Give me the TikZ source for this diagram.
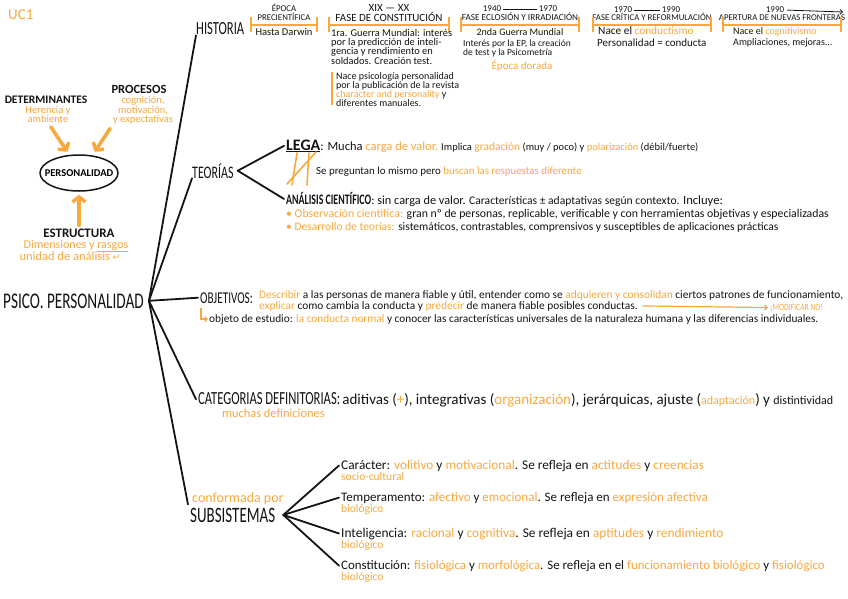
\documentclass[tikz,border=0pt]{standalone}
\usepackage{fontspec}
\setmainfont{Carlito}
\newfontfamily\capsfont[FakeStretch=0.8]{Carlito}
\newfontfamily\tallfont[FakeStretch=0.68]{Carlito}
\newfontfamily\symfont{DejaVu Sans}
\usepackage{tikz}
\usetikzlibrary{calc, positioning, arrows.meta, shapes.geometric}
\definecolor{ucorange}{HTML}{F8A83F}
\definecolor{inkblack}{HTML}{141414}
\newcommand{\hl}[1]{\textcolor{ucorange}{#1}}
\newcommand{\fs}[1]{\fontsize{#1}{#1}\selectfont}

\begin{document}
\begin{tikzpicture}[
  x=1pt, y=-1pt,
  txt/.style={inner sep=0pt, anchor=base west, text=inkblack},
  ctxt/.style={txt, anchor=base},
  title/.style={txt, font=\tallfont\fs{18.5}},
  tlhead/.style={ctxt, font=\fs{8.8}},
  tlyear/.style={ctxt, font=\fs{9}},
  tlbody/.style={txt, anchor=north west, align=left, font=\fontsize{10.4}{9.2}\selectfont},
  brk/.style={draw=ucorange, line width=1.8pt, {Bar[width=15pt]}-{Bar[width=15pt]}},
  branch/.style={draw=inkblack, line width=1.8pt, line cap=round},
  bigarrow/.style={draw=ucorange, line width=3.5pt, line cap=round, -{Straight Barb[length=5pt,width=13pt]}},
  thinarr/.style={draw=ucorange, line width=1.2pt, -{Straight Barb[length=2.5pt,width=5pt]}}
]
\useasboundingbox[fill=white] (0,0) rectangle (848,599);

% --- left block
\node[txt, font=\fs{15}, text=ucorange] (uc) at (8,20) {UC1};

\node[draw=inkblack, ellipse, line width=1.5pt, minimum width=78pt, minimum height=36pt,
  inner sep=0pt, font=\bfseries\fs{10.5}] (perso) at (79,173) {\makebox[40pt]{PERSONALIDAD}};

\node[ctxt, font=\bfseries\fs{11.5}] (determ) at (46,104) {DETERMINANTES};
\node[ctxt, anchor=north, align=center, font=\fontsize{10.5}{9}\selectfont, text=ucorange] (herencia) at (48,106) {Herencia y\\ambiente};
\node[ctxt, font=\bfseries\fs{12.5}] (procesos) at (139,94) {PROCESOS};
\node[ctxt, anchor=north, align=center, font=\fontsize{10.5}{9}\selectfont, text=ucorange] (cognicion) at (143,96) {cognición,\\motivación,\\y expectativas};
\node[ctxt, font=\bfseries\fs{13}] (estructura) at (79,237) {ESTRUCTURA};
\node[ctxt, font=\fs{12}, text=ucorange] (dimens) at (76,248) {Dimensiones y \underline{rasgos}};
\node[ctxt, font=\fs{12.5}, text=ucorange] (unidad) at (70,260) {unidad de análisis {\symfont\fs{9}↵}};

\draw[bigarrow, shorten <=5pt, shorten >=3pt] (herencia.south) -- ([xshift=-10pt]perso.north);
\draw[bigarrow, shorten <=5pt, shorten >=3pt] (cognicion.south west) -- ([xshift=14pt]perso.north);
\draw[bigarrow, shorten <=3pt, shorten >=3pt] (estructura.north) -- (perso.south);

% --- centre
\node[txt, font=\tallfont\fs{22.4}] (psico) at (3,308) {PSICO. PERSONALIDAD};
\coordinate[right=5pt of psico.east] (hub);

\node[title] (historia) at (196,35) {HISTORIA};
\node[title, font=\tallfont\fs{17.6}] (teorias) at (192,178) {TEORÍAS};
\node[txt, font=\tallfont\fs{16.5}] (objetivos) at (200,303) {OBJETIVOS:};
\node[txt] (categ) at (198,404) {{\tallfont\fs{18.5}CATEGORIAS DEFINITORIAS:} \fs{15}aditivas (\hl{+}), integrativas (\hl{organización}), jerárquicas, ajuste (\hl{\fs{12}adaptación}) y {\fs{12}distintividad}};
\node[txt, font=\fs{12.4}, text=ucorange] (muchas) at (222,417) {muchas definiciones};
\node[txt, font=\fs{14}, text=ucorange] (conform) at (192,502) {conformada por};
\node[title, font=\tallfont\fs{22}] (subs) at (190,522) {SUBSISTEMAS};

\draw[branch] (hub) -- (historia.south west);
\draw[branch] (hub) -- (teorias.south west);
\draw[branch] (hub) -- ([xshift=-2pt]objetivos.west);
\draw[branch] (hub) -- ([xshift=-2pt]categ.west);
\draw[branch] (hub) -- ([xshift=-4pt]conform.south west);

% --- historia: timeline
\node[tlhead] (epoca) at (284,12) {ÉPOCA};
\node[tlhead] (precien) at (284,21) {PRECIENTÍFICA};
\draw[brk] (250,25) -- (318,25);
\node[ctxt, font=\fs{10.5}] (darwin) at (284,36) {Hasta Darwin};

\node[tlyear, font=\fs{11}] (xixxx) at (389,12) {XIX — XX};
\node[tlhead, font=\fs{11}] (constit) at (389,22) {FASE DE CONSTITUCIÓN};
\draw[brk] (328,25) -- (450,25);
\node[tlbody] (guerra1) at (331,29) {1ra. Guerra Mundial: interés\\por la predicción de inteli-\\gencia y rendimiento en\\soldados. Creación test.};
\node[tlbody, font=\fontsize{10}{8.6}\selectfont] (nace) at (336,72) {Nace psicología personalidad\\por la publicación de la revista\\\hl{character and personality} y\\diferentes manuales.};
\draw[draw=ucorange, line width=2pt] (nace.north west) ++(-4,0) -- ++(0,33);

\node[tlyear] (y1940) at (492,12) {1940};
\node[tlyear] (y1970a) at (548,12) {1970};
\draw[inkblack, line width=0.8pt] ([xshift=2pt]y1940.east) -- ([xshift=-2pt]y1970a.west);
\node[tlhead, font=\fs{9.2}] (eclosion) at (520,21) {FASE ECLOSIÓN Y IRRADIACIÓN};
\draw[brk] (460,25) -- (580,25);
\node[ctxt, font=\fs{10}] (guerra2) at (520,36) {2nda Guerra Mundial};
\node[tlbody, font=\fontsize{9.5}{8.4}\selectfont] (interes) at (463,40) {Interés por la EP, la creación\\de test y la Psicometría};
\node[ctxt, font=\fs{11}, text=ucorange] (dorada) at (522,70) {Época dorada};

\node[tlyear] (y1970b) at (623,13) {1970};
\node[tlyear] (y1990a) at (671,13) {1990};
\draw[inkblack, line width=0.8pt] ([xshift=2pt]y1970b.east) -- ([xshift=-2pt]y1990a.west);
\node[tlhead] (critica) at (652,21) {FASE CRÍTICA Y REFORMULACIÓN};
\draw[brk] (592,25) -- (712,25);
\node[txt, font=\fs{11.3}] (conduct) at (598,35) {Nace el \hl{conductismo}};
\node[txt, font=\fs{11}] (persocond) at (597,46.5) {Personalidad = conducta};

\node[tlyear] (y1990b) at (775,13) {1990};
\coordinate (futuro) at (843,12);
\draw[inkblack, line width=0.8pt, -{Straight Barb[length=2.5pt,width=5pt]}] ([xshift=3pt]y1990b.east) -- (futuro);
\node[tlhead] (apertura) at (782,21) {APERTURA DE NUEVAS FRONTERAS};
\draw[brk] (722,25) -- (842,25);
\node[txt, font=\fs{10}] (cognit) at (733,35) {Nace el \hl{cognitivismo}};
\node[txt, font=\fs{10}] (amplia) at (733,46) {Ampliaciones, mejoras...};

% --- teorias
\coordinate[right=4pt of teorias.east] (teofork);
\node[txt, font=\fs{10.5}] (lega) at (286,150) {{\bfseries\fs{16}\underline{LEGA}}{\fs{12.5}: Mucha \hl{carga de valor.}} Implica {\fs{11.5}\hl{gradación}} (muy / poco) y \hl{polarización} (débil/fuerte)};
\draw[ucorange, line width=1.6pt, line cap=round] (297,153) -- (292,185);
\draw[ucorange, line width=1.6pt, line cap=round] (309,153) -- (307,185);
\draw[ucorange, line width=1.6pt, line cap=round] (287,184) -- (316,152);
\node[txt, font=\fs{10.9}] (pregunta) at (316,174) {Se preguntan lo mismo pero \hl{buscan las respuestas diferente}};
\node[txt, font=\fs{11.6}] (analisis) at (286,204) {{\tallfont\bfseries\fs{14.5}ANÁLISIS CIENTÍFICO}{\fs{12.3}: sin carga de valor.} Características ± adaptativas según contexto. {\fs{12.6}Incluye:}};
\node[txt, font=\fs{11.8}] (observ) at (286,217) {\hl{• Observación científica:} gran nº de personas, replicable, verificable y con herramientas objetivas y especializadas};
\node[txt, font=\fs{11.5}] (desarr) at (286,230) {\hl{• Desarrollo de teorías:} sistemáticos, contrastables, comprensivos y susceptibles de aplicaciones prácticas};
\draw[branch] (teofork) -- ([xshift=-2pt]lega.west);
\draw[branch] (teofork) -- ([xshift=-2pt]analisis.west);

% --- objetivos
\node[txt, font=\fs{11.4}] (obj1) at (259,298) {\hl{Describir} a las personas de manera fiable y útil, entender como se \hl{adquieren y consolidan} ciertos patrones de funcionamiento,};
\node[txt, font=\fs{11.4}] (obj2) at (259,309) {\hl{explicar} como cambia la conducta y \hl{predecir} de manera fiable posibles conductas.};
\node[txt, font=\capsfont\fs{9.5}, text=ucorange] (modif) at (770,310) {¡MODIFICAR NO!};
\draw[thinarr] ([xshift=5pt]obj2.east) -- ([xshift=-2pt]modif.west);
\node[txt, font=\fs{11.3}] (estudio) at (209,322) {objeto de estudio: \hl{la conducta normal} y conocer las características universales de la naturaleza humana y las diferencias individuales.};
\draw[thinarr] (201,308) |- ([xshift=-1pt]estudio.west);

% --- subsistemas
\coordinate[right=8pt of subs.east] (subfork);
\node[txt, font=\fs{13.3}] (caracter) at (341,469) {Carácter: \hl{volitivo} y \hl{motivacional}. Se refleja en \hl{actitudes} y \hl{creencias}};
\node[txt, font=\fs{11.5}, text=ucorange] (caracterb) at (341,480) {socio-cultural};
\node[txt, font=\fs{13}] (temper) at (341,501) {Temperamento: \hl{afectivo} y \hl{emocional}. Se refleja en \hl{expresión afectiva}};
\node[txt, font=\fs{11.5}, text=ucorange] (temperb) at (341,512) {biológico};
\node[txt, font=\fs{13.4}] (intelig) at (341,537) {Inteligencia: \hl{racional} y \hl{cognitiva}. Se refleja en \hl{aptitudes} y \hl{rendimiento}};
\node[txt, font=\fs{11.5}, text=ucorange] (inteligb) at (341,548) {biológico};
\node[txt, font=\fs{12.9}] (constit) at (341,569) {Constitución: \hl{fisiológica} y \hl{morfológica}. Se refleja en el \hl{funcionamiento biológico} y \hl{fisiológico}};
\node[txt, font=\fs{11.5}, text=ucorange] (constitb) at (341,580) {biológico};
\foreach \item in {caracter, temper, intelig, constit}
  \draw[branch] (subfork) -- ([xshift=-2pt]\item.west);

\end{tikzpicture}
\end{document}
